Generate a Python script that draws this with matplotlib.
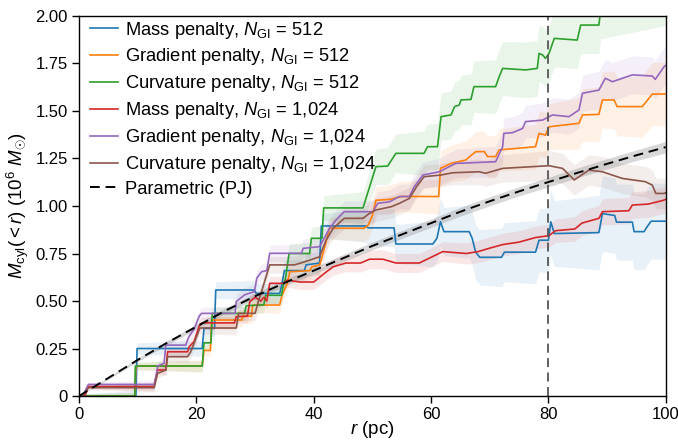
import numpy as np
import matplotlib
matplotlib.use("Agg")
import matplotlib.pyplot as plt

plt.rcParams['font.family'] = ['Liberation Sans', 'DejaVu Sans']
plt.rcParams['mathtext.fontset'] = 'custom'
plt.rcParams['mathtext.rm'] = 'Liberation Sans'
plt.rcParams['mathtext.it'] = 'Liberation Sans:italic'

# ---- data (r in pc, M in 1e6 Msun) ----
mass512_r = [0, 9.7, 9.9, 21.0, 21.3, 23.1, 23.3, 29.9, 30.2, 34.2, 34.5, 35.0, 38.4, 38.7, 41.0, 41.3, 48.9, 49.3, 53.7, 54.0,
             60.3, 61.0, 61.6, 62.2, 66.5, 67.0, 67.6, 68.3, 72.0, 72.5, 77.8, 78.4, 80.0, 80.4, 81.0, 88.6, 89.2, 91.3, 91.6,
             94.3, 94.6, 96.3, 96.8, 97.5, 100]
mass512_m = [0, 0, 0.25, 0.25, 0.356, 0.356, 0.558, 0.558, 0.54, 0.54, 0.575, 0.66, 0.66, 0.69, 0.70, 0.895, 0.895, 0.885, 0.885, 0.80,
             0.80, 0.83, 0.917, 0.865, 0.865, 0.83, 0.757, 0.73, 0.73, 0.757, 0.757, 0.82, 0.82, 0.917, 0.855, 0.86, 0.96, 0.95, 0.915,
             0.915, 0.865, 0.865, 0.89, 0.92, 0.92]

grad512_r = [0, 9.5, 9.7, 21.0, 21.3, 22.4, 22.6, 27.7, 28.0, 29.4, 29.6, 34.2, 34.6, 35.0, 35.6, 35.9, 39.3, 39.7, 41.0, 41.3,
             42.0, 42.7, 48.6, 49.3, 50.0, 50.6, 53.0, 55.0, 61.3, 61.6, 63.4, 65.9, 67.6, 69.1, 69.6, 71.0, 71.6, 77.8, 78.4,
             79.5, 80.1, 85.2, 85.8, 88.6, 89.2, 91.2, 91.7, 96.0, 97.7, 100]
grad512_m = [0, 0, 0.158, 0.158, 0.24, 0.24, 0.40, 0.40, 0.42, 0.42, 0.479, 0.479, 0.53, 0.558, 0.60, 0.654, 0.66, 0.68, 0.69, 0.72,
             0.80, 0.883, 0.883, 0.90, 0.95, 1.03, 1.035, 1.05, 1.05, 1.198, 1.224, 1.242, 1.286, 1.286, 1.26, 1.26, 1.295, 1.312, 1.382,
             1.373, 1.417, 1.435, 1.479, 1.482, 1.558, 1.558, 1.523, 1.523, 1.589, 1.589]

curv512_r = [0, 9.5, 9.6, 21.0, 21.3, 22.5, 22.7, 28.2, 28.5, 31.5, 31.8, 34.5, 34.8, 35.2, 35.8, 39.3, 39.6, 41.4, 41.7, 48.4,
             50.6, 52.6, 54.0, 58.8, 59.4, 61.1, 61.7, 63.4, 64.0, 64.8, 65.1, 66.8, 67.3, 71.0, 71.6, 72.2, 76.1, 78.1, 78.4,
             79.0, 79.5, 80.1, 81.0, 83.2, 84.9, 85.5, 88.6, 88.9, 100]
curv512_m = [0, 0, 0.158, 0.158, 0.28, 0.28, 0.435, 0.435, 0.475, 0.48, 0.53, 0.53, 0.58, 0.62, 0.75, 0.75, 0.83, 0.83, 0.99, 0.99,
             1.207, 1.21, 1.277, 1.277, 1.312, 1.312, 1.47, 1.479, 1.523, 1.531, 1.558, 1.561, 1.628, 1.628, 1.68, 1.724, 1.716, 1.724, 1.803,
             1.795, 1.777, 1.803, 1.882, 1.877, 1.873, 1.952, 1.952, 2.03, 2.1]

mass1024_r = [0, 1.0, 1.6, 12.8, 13.1, 13.4, 14.8, 15.1, 18.5, 18.8, 19.6, 20.5, 21.0, 26.5, 26.8, 28.7, 29.1, 30.0, 31.0, 31.5,
              32.0, 32.5, 34.8, 35.5, 37.6, 40.0, 41.8, 43.3, 45.5, 48.0, 49.5, 51.8, 54.0, 58.0, 60.8, 62.0, 66.0, 68.0, 70.2,
              72.2, 75.0, 77.8, 80.1, 81.2, 84.5, 85.7, 88.6, 89.2, 93.7, 94.3, 97.0, 99.6, 100]
mass1024_m = [0, 0, 0.05, 0.05, 0.10, 0.137, 0.137, 0.233, 0.233, 0.26, 0.286, 0.37, 0.385, 0.385, 0.418, 0.42, 0.496, 0.52, 0.50, 0.52,
              0.50, 0.593, 0.593, 0.61, 0.60, 0.60, 0.645, 0.68, 0.70, 0.70, 0.72, 0.72, 0.70, 0.70, 0.742, 0.76, 0.75, 0.76, 0.78,
              0.797, 0.81, 0.834, 0.844, 0.87, 0.879, 0.91, 0.935, 0.97, 0.975, 1.005, 1.01, 1.03, 1.035]

grad1024_r = [0, 0.6, 1.6, 12.8, 13.1, 13.4, 14.5, 14.8, 18.2, 18.5, 18.8, 19.6, 20.5, 20.9, 26.6, 26.8, 28.2, 29.9, 30.3, 31.1,
              32.0, 32.5, 37.9, 38.2, 41.0, 42.7, 43.8, 45.2, 50.1, 50.9, 52.9, 54.6, 56.3, 57.1, 58.6, 61.4, 63.1, 64.2, 71.0,
              72.2, 72.4, 73.9, 75.6, 76.1, 79.0, 80.7, 83.5, 85.2, 85.8, 88.6, 89.7, 90.9, 94.3, 97.7, 98.2, 99.7, 100]
grad1024_m = [0, 0, 0.061, 0.061, 0.10, 0.158, 0.172, 0.268, 0.268, 0.295, 0.316, 0.351, 0.421, 0.435, 0.435, 0.497, 0.532, 0.55, 0.62, 0.654,
              0.66, 0.751, 0.751, 0.777, 0.786, 0.882, 0.926, 0.970, 0.970, 1.014, 1.022, 1.05, 1.05, 1.10, 1.163, 1.18, 1.207, 1.224, 1.233,
              1.312, 1.382, 1.386, 1.408, 1.444, 1.452, 1.479, 1.47, 1.505, 1.593, 1.61, 1.672, 1.654, 1.69, 1.684, 1.666, 1.733, 1.74]

curv1024_r = [0, 0.6, 1.6, 12.8, 13.4, 14.8, 15.1, 18.5, 19.0, 19.6, 20.6, 26.8, 27.2, 30.0, 30.6, 31.1, 31.8, 32.5, 36.7, 37.6,
              39.3, 41.0, 42.1, 43.3, 45.2, 48.4, 49.5, 50.6, 53.2, 54.6, 56.3, 57.5, 58.8, 61.7, 63.7, 68.2, 69.3, 72.2, 80.1,
              82.4, 84.4, 86.9, 89.2, 92.6, 96.5, 97.7, 98.3, 99.7, 100]
curv1024_m = [0, 0, 0.044, 0.044, 0.12, 0.137, 0.207, 0.207, 0.23, 0.277, 0.358, 0.358, 0.435, 0.435, 0.50, 0.549, 0.62, 0.69, 0.69, 0.698,
              0.715, 0.733, 0.82, 0.882, 0.935, 0.935, 0.961, 0.979, 0.996, 1.014, 1.04, 1.10, 1.154, 1.163, 1.175, 1.18, 1.172, 1.198, 1.212,
              1.198, 1.137, 1.189, 1.18, 1.145, 1.128, 1.11, 1.066, 1.066, 1.07]

pj_r = [0, 5, 10, 15, 20, 25, 30, 35, 40, 45, 50, 55, 60, 65, 70, 75, 80, 85, 90, 95, 100]
pj_m = [0, 0.095, 0.19, 0.28, 0.365, 0.45, 0.525, 0.595, 0.66, 0.725, 0.79, 0.85, 0.91, 0.97, 1.025, 1.077, 1.126, 1.175, 1.222, 1.267, 1.31]
pj_err = [0, 0.006, 0.009, 0.011, 0.013, 0.015, 0.016, 0.017, 0.018, 0.019, 0.02, 0.021, 0.022, 0.023, 0.024, 0.024, 0.025, 0.026, 0.027, 0.028, 0.03]

# band half-widths at coarse radii
band_r = [0, 10, 20, 30, 40, 50, 60, 70, 80, 90, 100]
mass512_err = [0.01, 0.03, 0.04, 0.05, 0.06, 0.09, 0.12, 0.15, 0.17, 0.2, 0.2]
grad512_err = [0.01, 0.02, 0.03, 0.04, 0.05, 0.07, 0.09, 0.11, 0.12, 0.15, 0.17]
curv512_err = [0.01, 0.02, 0.03, 0.04, 0.06, 0.09, 0.12, 0.14, 0.15, 0.15, 0.15]
mass1024_err = [0.01, 0.02, 0.03, 0.035, 0.04, 0.05, 0.05, 0.06, 0.06, 0.07, 0.07]
grad1024_err = [0.01, 0.02, 0.03, 0.04, 0.05, 0.06, 0.07, 0.08, 0.09, 0.1, 0.1]
curv1024_err = [0.01, 0.02, 0.03, 0.04, 0.05, 0.06, 0.06, 0.07, 0.08, 0.08, 0.08]

labels = [r'Mass penalty, $N_{\rm GI}$ = 512', r'Gradient penalty, $N_{\rm GI}$ = 512',
          r'Curvature penalty, $N_{\rm GI}$ = 512', r'Mass penalty, $N_{\rm GI}$ = 1,024',
          r'Gradient penalty, $N_{\rm GI}$ = 1,024', r'Curvature penalty, $N_{\rm GI}$ = 1,024']
colors = ['#1f77b4', '#ff7f0e', '#2ca02c', '#d62728', '#9467bd', '#8c564b']
series = [(mass512_r, mass512_m, mass512_err), (grad512_r, grad512_m, grad512_err),
          (curv512_r, curv512_m, curv512_err), (mass1024_r, mass1024_m, mass1024_err),
          (grad1024_r, grad1024_m, grad1024_err), (curv1024_r, curv1024_m, curv1024_err)]

fig = plt.figure(figsize=(6.78, 4.43), dpi=100)
ax = fig.add_axes([0.1165, 0.106, 0.8655, 0.858])

for (r, m, e), c in zip(series, colors):
    r = np.array(r); m = np.array(m)
    w = np.interp(r, band_r, e)
    ax.fill_between(r, m - w, m + w, color=c, alpha=0.1, lw=0)

pr = np.array(pj_r); pm = np.array(pj_m); pe = np.array(pj_err)
ax.fill_between(pr, pm - pe, pm + pe, color='gray', alpha=0.3, lw=0)

for (r, m, e), c, lab in zip(series, colors, labels):
    ax.plot(r, m, color=c, lw=1.2, label=lab)

ax.plot(pr, pm, color='black', ls=(0, (5, 3)), lw=1.4, label='Parametric (PJ)')
ax.axvline(80, color='#555555', ls=(0, (5, 3)), lw=1.3)

ax.set_xlim(0, 100)
ax.set_ylim(0, 2)
ax.set_xticks([0, 20, 40, 60, 80, 100])
ax.set_yticks([0, 0.25, 0.5, 0.75, 1.0, 1.25, 1.5, 1.75, 2.0])
ax.set_yticklabels(['0', '0.25', '0.50', '0.75', '1.00', '1.25', '1.50', '1.75', '2.00'])
ax.tick_params(labelsize=12, length=5, width=1, direction='out', pad=3)
for s in ax.spines.values():
    s.set_linewidth(1.0)
ax.set_xlabel(r'$r$ (pc)', fontsize=13.5, labelpad=-2)
ax.set_ylabel(r'$M_{\rm cyl}(<r)$ (10$^6$ $M_{\odot}$)', fontsize=13.5, labelpad=3)

ax.legend(loc='upper left', bbox_to_anchor=(0.0126, 1.0), frameon=False, fontsize=13.2,
          handlelength=1.5, handletextpad=0.4, labelspacing=0.32, borderaxespad=0.0,
          borderpad=0.2)

fig.savefig('out.png', dpi=100)
